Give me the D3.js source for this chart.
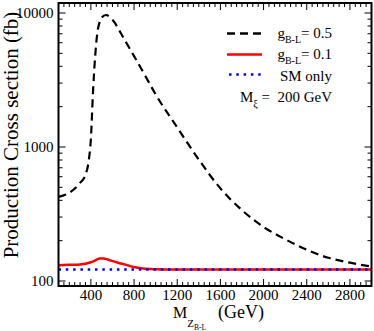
<html>
<head>
<script src="https://d3js.org/d3.v7.min.js"></script>
<style>
body{margin:0;background:#fff;}
text{font-family:"Liberation Serif","Times New Roman",serif;fill:#000;}
</style>
</head>
<body>
<script>
var width = 374, height = 331;
var plotL = 58.5, plotR = 371.5, plotT = 3, plotB = 286;

// g_B-L = 0.5
var massBL05 = [100, 200, 300, 350, 380, 400, 420, 440, 460, 480, 500, 540, 600, 700, 800, 900, 1000, 1200, 1400, 1600, 1800, 2000, 2200, 2400, 2600, 2800, 3000];
var xsecBL05 = [424, 455, 540, 620, 790, 1150, 2600, 4800, 7100, 8500, 9250, 9660, 8900, 6560, 4770, 3440, 2470, 1400, 805, 491, 338, 253, 205, 171, 149, 137, 128];
// g_B-L = 0.1
var massBL01 = [100, 200, 300, 350, 400, 450, 480, 520, 580, 650, 720, 800, 900, 1000, 1200, 1600, 2000, 2400, 2800, 3000];
var xsecBL01 = [131, 132, 133, 134.5, 138, 144, 147.5, 147, 142.5, 137, 132.5, 127, 123.5, 122.5, 122, 122, 122, 122, 122, 122];
// SM only
var massSM = [100, 1000, 2000, 3000];
var xsecSM = [122, 122, 122, 122];

var xTickValues = [400, 800, 1200, 1600, 2000, 2400, 2800];
var yTickValues = [100, 1000, 10000];

var svg = d3.select("body").append("svg")
	.attr("width", width)
	.attr("height", height);

var x = d3.scaleLinear().domain([100, 3000]).range([plotL, plotR]);
var y = d3.scaleLog().domain([100, 10000]).range([281, 13]);

svg.append("clipPath").attr("id", "clip")
	.append("rect")
	.attr("x", plotL).attr("y", plotT)
	.attr("width", plotR - plotL).attr("height", plotB - plotT);

var line = d3.line()
	.x(function(d){ return x(d[0]); })
	.y(function(d){ return y(d[1]); })
	.curve(d3.curveMonotoneX);

var curves = svg.append("g").attr("clip-path", "url(#clip)");

curves.append("path")
	.datum(d3.zip(massBL01, xsecBL01))
	.attr("d", line)
	.attr("fill", "none").attr("stroke", "#ff0000").attr("stroke-width", 2.5);

curves.append("path")
	.datum(d3.zip(massSM, xsecSM))
	.attr("d", line)
	.attr("fill", "none").attr("stroke", "#0000ff").attr("stroke-width", 2.5)
	.attr("stroke-dasharray", "2.5,4.8");

curves.append("path")
	.datum(d3.zip(massBL05, xsecBL05))
	.attr("d", line)
	.attr("fill", "none").attr("stroke", "#000").attr("stroke-width", 2.2)
	.attr("stroke-dasharray", "8,5");

// ticks, all four sides, pointing inward
var ticks = svg.append("g").attr("stroke", "#000").attr("stroke-width", 1);

var xMinor = d3.range(100, 3001, 50).filter(function(v){ return v % 400 !== 0; });
[[xTickValues, 7], [xMinor, 4]].forEach(function(set){
	set[0].forEach(function(v){
		ticks.append("line").attr("x1", x(v)).attr("x2", x(v))
			.attr("y1", plotB).attr("y2", plotB - set[1]);
		ticks.append("line").attr("x1", x(v)).attr("x2", x(v))
			.attr("y1", plotT).attr("y2", plotT + set[1]);
	});
});

var yMinor = [];
[100, 1000].forEach(function(d){
	for (var k = 2; k <= 9; k++) yMinor.push(d * k);
});
[[yTickValues, 7], [yMinor, 4]].forEach(function(set){
	set[0].forEach(function(v){
		ticks.append("line").attr("y1", y(v)).attr("y2", y(v))
			.attr("x1", plotL).attr("x2", plotL + set[1]);
		ticks.append("line").attr("y1", y(v)).attr("y2", y(v))
			.attr("x1", plotR).attr("x2", plotR - set[1]);
	});
});

svg.append("rect")
	.attr("x", plotL).attr("y", plotT)
	.attr("width", plotR - plotL).attr("height", plotB - plotT)
	.attr("fill", "none").attr("stroke", "#000").attr("stroke-width", 2);

// tick labels
svg.selectAll(".xl").data(xTickValues).enter().append("text")
	.attr("x", function(d){ return x(d); })
	.attr("y", 300)
	.attr("text-anchor", "middle")
	.attr("font-size", 15)
	.text(function(d){ return d; });

svg.selectAll(".yl").data(yTickValues).enter().append("text")
	.attr("x", 53.5)
	.attr("y", function(d){ return y(d); })
	.attr("dy", "0.33em")
	.attr("text-anchor", "end")
	.attr("font-size", 15)
	.text(function(d){ return d; });

// axis titles
svg.append("text")
	.attr("transform", "translate(18,135) rotate(-90)")
	.attr("text-anchor", "middle")
	.attr("font-size", 21)
	.text("Production Cross section (fb)");

var xt = svg.append("text").attr("x", 173).attr("y", 318).attr("font-size", 16);
xt.append("tspan").text("M");
xt.append("tspan").attr("font-size", 11).attr("dy", 8.5).text("Z");
xt.append("tspan").attr("font-size", 7.5).attr("dy", 3).text("B-L");
svg.append("text").attr("x", 218).attr("y", 318).attr("font-size", 18).text("(GeV)");

// legend
var legend = svg.append("g");
var legendRows = [
	{label: "0.5", stroke: "#000", dash: "8,5", y: 33.5},
	{label: "0.1", stroke: "#ff0000", dash: null, y: 54.5}
];
legendRows.forEach(function(r){
	legend.append("line")
		.attr("x1", 227).attr("x2", 262).attr("y1", r.y).attr("y2", r.y)
		.attr("stroke", r.stroke).attr("stroke-width", 2.5)
		.attr("stroke-dasharray", r.dash);
	var t = legend.append("text").attr("x", 332).attr("y", r.y + 4)
		.attr("text-anchor", "end").attr("font-size", 15);
	t.append("tspan").text("g");
	t.append("tspan").attr("font-size", 10).attr("dy", 5).text("B-L");
	t.append("tspan").attr("dy", -5).text("= " + r.label);
});
legend.append("line")
	.attr("x1", 229).attr("x2", 262).attr("y1", 74.5).attr("y2", 74.5)
	.attr("stroke", "#0000ff").attr("stroke-width", 2.5)
	.attr("stroke-dasharray", "2.5,4.8");
legend.append("text").attr("x", 332).attr("y", 81)
	.attr("text-anchor", "end").attr("font-size", 15)
	.text("SM only");
var mt = legend.append("text").attr("x", 332).attr("y", 101.5)
	.attr("text-anchor", "end").attr("font-size", 15)
	.style("white-space", "pre");
mt.append("tspan").text("M");
mt.append("tspan").attr("font-size", 10).attr("dy", 5).text("ξ");
mt.append("tspan").attr("dy", -5).text(" =  200 GeV");
</script>
</body>
</html>
